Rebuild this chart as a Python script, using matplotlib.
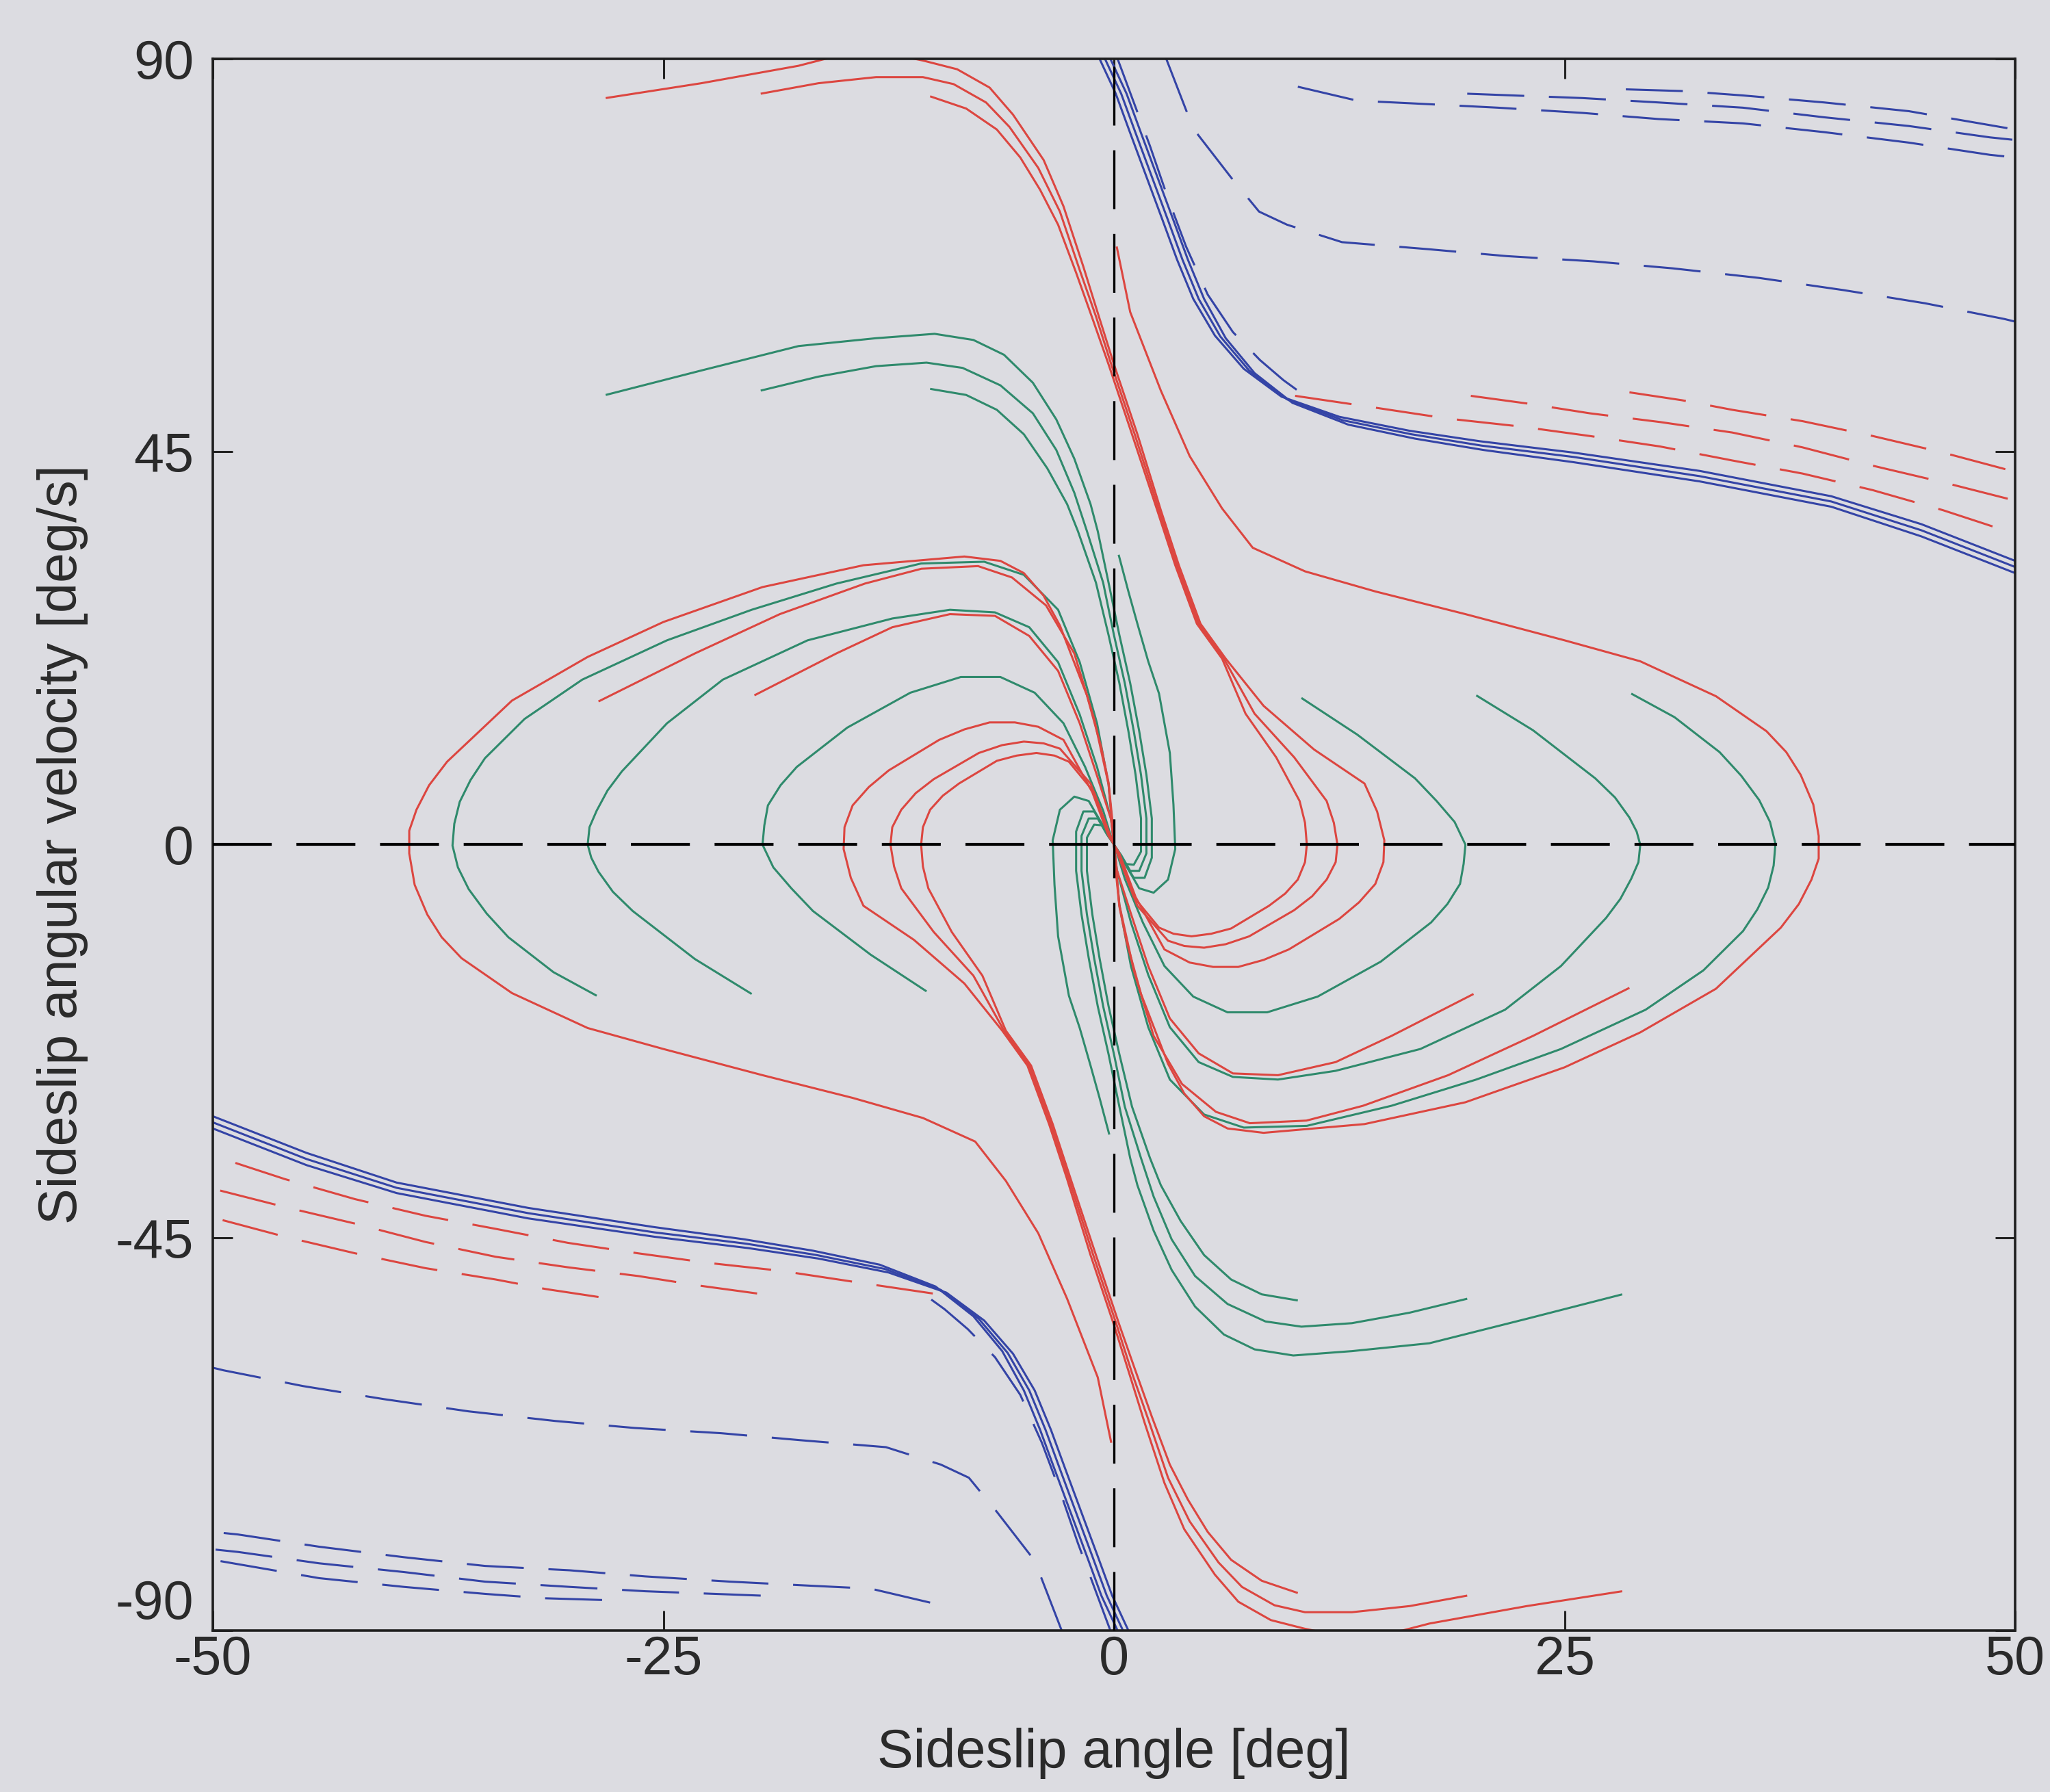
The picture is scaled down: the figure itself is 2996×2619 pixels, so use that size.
import matplotlib
matplotlib.use("Agg")
import matplotlib.pyplot as plt
import numpy as np

plt.rcParams['font.family'] = ['Liberation Sans', 'DejaVu Sans']
plt.rcParams['lines.scale_dashes'] = False

# ---------------- data (deg, deg/s) ----------------
# Every trajectory below is drawn together with its point-reflected twin
# (beta, r) -> (-beta, -r), as the phase portrait is symmetric about the origin.

# red solid: from top-left initial points, through the centre into small loops
rt1_x = [-28.2, -22.9, -17.5, -16.0, -13.0, -10.6, -8.7, -6.9, -5.6, -3.9, -2.8, -1.7, -0.9, 0.0, 1.3, 2.6, 3.6, 4.8, 6.2, 8.3, 11.1, 13.9, 14.6, 15.0, 14.95, 14.5, 13.6, 12.5, 9.7, 8.3, 6.9, 5.5, 4.2, 2.8, 1.2, 0.3, 0.0]
rt1_y = [85.5, 87.2, 89.2, 90.0, 90.8, 89.8, 88.8, 86.7, 83.6, 78.4, 73.1, 66.2, 60.9, 55.0, 47.0, 38.3, 32.0, 25.3, 21.3, 15.9, 10.9, 7.0, 3.8, 0.5, -2.0, -4.5, -6.6, -8.5, -12.0, -13.2, -14.0, -14.0, -13.5, -12.0, -6.0, -1.0, 0.0]
rt2_x = [-19.6, -16.4, -13.2, -10.6, -8.9, -7.1, -5.8, -4.2, -3.0, -1.9, -1.0, -0.15, 1.15, 2.5, 3.5, 4.7, 6.1, 7.8, 10.0, 11.8, 12.2, 12.4, 12.3, 11.8, 11.0, 10.0, 7.5, 6.2, 5.0, 3.9, 3.0, 1.3, 0.3, 0.0]
rt2_y = [86.0, 87.2, 87.9, 87.9, 87.1, 85.0, 82.2, 77.5, 72.5, 65.8, 60.5, 55.0, 47.0, 38.3, 32.0, 25.3, 21.3, 15.0, 10.0, 5.0, 2.5, 0.0, -2.0, -4.0, -5.9, -7.5, -10.5, -11.4, -11.8, -11.6, -11.0, -7.0, -1.5, 0.0]
rt3_x = [-10.2, -8.2, -6.5, -5.2, -4.1, -3.1, -2.1, -1.15, -0.3, 1.0, 2.4, 3.4, 4.6, 6.0, 7.3, 9.0, 10.3, 10.6, 10.7, 10.6, 10.2, 9.5, 8.6, 6.5, 5.4, 4.3, 3.3, 2.5, 1.1, 0.3, 0.0]
rt3_y = [85.7, 84.3, 81.9, 78.7, 75.0, 71.0, 65.5, 60.0, 55.0, 47.0, 38.3, 32.0, 25.3, 21.3, 15.0, 10.0, 5.0, 2.5, 0.0, -2.0, -4.0, -5.6, -7.0, -9.6, -10.2, -10.5, -10.2, -9.5, -6.0, -1.5, 0.0]
# red solid: large loop starting near the r axis
rbig_x = [0.15, 0.9, 2.6, 4.2, 6.0, 7.7, 10.6, 14.5, 19.5, 25.0, 29.2, 33.4, 36.2, 37.3, 38.1, 38.8, 39.1, 39.1, 38.7, 38.0, 37.0, 33.4, 29.2, 25.0, 19.5, 13.9, 8.3, 6.3, 5.0, 3.9, 3.0, 1.5, 0.7, 0.3, 0.1, 0.0]
rbig_y = [68.5, 61.0, 52.0, 44.5, 38.5, 34.0, 31.3, 29.0, 26.4, 23.4, 21.0, 17.0, 13.0, 10.6, 8.0, 4.6, 1.0, -1.6, -4.0, -6.8, -9.5, -16.5, -21.5, -25.5, -29.5, -32.0, -33.0, -32.5, -31.1, -28.5, -25.1, -17.1, -11.1, -7.1, -3.0, 0.0]
# red solid: short trajectories from mid-left initial points
rm1_x = [-28.6, -23.25, -18.54, -13.82, -10.68, -7.54, -5.66, -3.77, -2.2, -1.1, -0.3, 0.0]
rm1_y = [16.4, 21.9, 26.4, 29.9, 31.6, 31.9, 30.6, 27.4, 21.9, 14.4, 6.9, 0.0]
rm2_x = [-19.95, -15.4, -12.3, -9.1, -6.6, -4.7, -3.1, -1.9, -0.94, -0.16, 0.0]
rm2_y = [17.1, 21.9, 24.9, 26.4, 26.2, 23.9, 19.9, 13.9, 7.9, 2.9, 0.0]

# green solid: arcs crossing the beta axis on the left
gl1_x = [-28.7, -31.1, -33.6, -34.8, -35.8, -36.4, -36.7, -36.6, -36.3, -35.7, -34.9, -32.7, -29.5, -24.8, -20.1, -15.4, -10.7, -7.2, -5.0, -3.1, -1.9, -0.94, -0.3, 0.0]
gl1_y = [-17.3, -14.6, -10.6, -7.9, -5.1, -2.6, -0.1, 2.4, 4.9, 7.4, 9.9, 14.4, 18.9, 23.4, 26.9, 29.9, 32.2, 32.4, 30.9, 26.9, 20.9, 13.9, 6.9, 0.0]
gl2_x = [-20.1, -23.25, -26.7, -27.8, -28.6, -29.0, -29.2, -29.1, -28.7, -28.1, -27.3, -24.8, -21.7, -17.0, -12.3, -9.1, -6.6, -4.7, -3.1, -1.9, -0.94, -0.16, 0.0]
gl2_y = [-17.1, -13.1, -7.6, -5.4, -3.1, -1.5, 0.0, 2.0, 3.9, 6.2, 8.4, 13.9, 18.9, 23.4, 25.9, 26.9, 26.6, 24.9, 20.9, 14.9, 8.9, 2.9, 0.0]
gl3_x = [-10.4, -13.5, -16.7, -17.9, -18.9, -19.5, -19.4, -19.2, -18.5, -17.6, -14.8, -11.3, -8.5, -6.3, -4.4, -2.8, -1.6, -0.6, -0.16, 0.0]
gl3_y = [-16.8, -12.6, -7.6, -5.0, -2.6, 0.0, 2.2, 4.5, 6.8, 8.9, 13.4, 17.4, 19.2, 19.2, 17.4, 13.9, 8.9, 3.9, 0.9, 0.0]
# green solid: from upper-left initial points down through the centre
gt1_x = [-28.2, -22.9, -17.5, -13.2, -9.95, -7.8, -6.1, -4.5, -3.2, -2.2, -1.3, -0.9, -0.3, 0.3, 0.9, 1.4, 1.8, 2.1, 2.1, 1.7, 1.1, 0.5, 0.0]
gt1_y = [51.5, 54.3, 57.1, 58.0, 58.5, 57.8, 56.1, 52.9, 48.7, 44.2, 39.0, 35.9, 30.0, 24.0, 18.5, 13.0, 8.0, 3.0, -1.5, -3.8, -3.8, -1.8, 0.0]
gt2_x = [-19.6, -16.4, -13.2, -10.4, -8.4, -6.3, -4.5, -3.2, -2.2, -1.5, -0.6, 0.0, 0.6, 1.1, 1.5, 1.8, 1.8, 1.4, 0.9, 0.4, 0.0]
gt2_y = [52.0, 53.6, 54.8, 55.2, 54.6, 52.6, 49.4, 45.2, 40.3, 35.9, 30.0, 24.0, 18.5, 13.0, 8.0, 3.0, -1.0, -3.0, -3.0, -1.2, 0.0]
gt3_x = [-10.2, -8.2, -6.5, -5.0, -3.7, -2.6, -2.0, -1.0, -0.3, 0.3, 0.8, 1.2, 1.5, 1.5, 1.1, 0.6, 0.2, 0.0]
gt3_y = [52.2, 51.5, 49.8, 47.0, 43.1, 39.0, 35.9, 30.0, 24.0, 18.5, 13.0, 8.0, 3.0, -0.8, -2.3, -2.2, -0.8, 0.0]
g5_x = [0.26, 0.8, 1.3, 1.9, 2.5, 3.1, 3.3, 3.4, 3.0, 2.2, 1.4, 0.7, 0.0]
g5_y = [33.2, 29.0, 25.3, 21.0, 17.3, 10.5, 4.6, -0.5, -4.0, -5.5, -5.0, -2.5, 0.0]

# blue solid: three diverging trajectories (upper right)
bs1_x = [-0.8, 0.1, 0.9, 1.8, 2.7, 3.5, 4.4, 5.6, 7.2, 9.3, 12.5, 16.4, 20.3, 25.5, 32.5, 39.8, 44.8, 50.0]
bs1_y = [90.0, 86.0, 81.5, 76.5, 71.5, 67.0, 62.5, 58.3, 54.5, 51.3, 49.0, 47.4, 46.2, 44.9, 42.8, 39.9, 36.7, 32.5]
bs2_x = [-0.5, 0.4, 1.2, 2.1, 3.0, 3.8, 4.7, 5.9, 7.5, 9.6, 12.7, 16.5, 20.4, 25.5, 32.5, 39.8, 44.8, 50.0]
bs2_y = [90.0, 86.0, 81.5, 76.5, 71.5, 67.0, 62.5, 58.2, 54.3, 51.0, 48.6, 47.0, 45.7, 44.4, 42.2, 39.3, 36.0, 31.8]
bs3_x = [-0.2, 0.7, 1.5, 2.4, 3.3, 4.1, 5.0, 6.2, 7.8, 9.9, 13.0, 16.7, 20.5, 25.5, 32.5, 39.8, 44.8, 50.0]
bs3_y = [90.0, 86.0, 81.5, 76.5, 71.5, 67.0, 62.5, 58.0, 54.0, 50.6, 48.1, 46.5, 45.2, 43.8, 41.6, 38.7, 35.3, 31.1]

# blue dashed
bdh_x = [0.2, 1.1, 2.0, 3.0, 4.0, 5.2, 6.6, 8.1, 9.4, 10.2]
bdh_y = [90.0, 85.0, 80.0, 74.0, 68.5, 63.0, 58.7, 55.5, 53.2, 52.0]
bds_x = [2.9, 4.4, 6.5, 8.05, 9.6, 12.65, 17.4, 21.8, 26.6, 31.0, 35.8, 40.5, 45.0, 49.4, 50.0]
bds_y = [90.0, 82.0, 76.4, 72.5, 71.0, 69.0, 68.2, 67.4, 66.8, 66.0, 64.9, 63.5, 62.0, 60.2, 59.9]
bd1_x = [10.2, 13.5, 16.5, 21.3, 26.0, 30.2, 34.9, 39.4, 44.1, 48.6, 50.0]
bd1_y = [86.8, 85.2, 84.9, 84.4, 83.8, 83.1, 82.6, 81.6, 80.4, 79.0, 78.7]
bd2_x = [19.6, 26.0, 30.2, 34.9, 39.4, 44.1, 48.6, 50.0]
bd2_y = [86.0, 85.5, 85.0, 84.4, 83.3, 82.3, 81.0, 80.7]
bd3_x = [28.4, 31.6, 34.9, 39.4, 44.1, 48.6, 50.0]
bd3_y = [86.5, 86.3, 85.8, 85.0, 84.0, 82.4, 81.9]

# red dashed (upper right)
rda_x = [10.05, 14.0, 18.5, 22.5, 26.4, 30.3, 34.3, 38.2, 42.1, 46.0, 50.0]
rda_y = [51.4, 50.2, 48.8, 47.9, 46.8, 45.6, 44.0, 42.5, 40.6, 38.3, 35.6]
rdb_x = [19.8, 23.0, 26.4, 30.3, 34.3, 38.2, 42.1, 46.0, 50.0]
rdb_y = [51.4, 50.5, 49.4, 48.4, 47.2, 45.5, 43.4, 41.5, 39.4]
rdc_x = [28.6, 31.5, 34.3, 38.2, 42.1, 46.0, 50.0]
rdc_y = [51.8, 50.9, 49.8, 48.5, 46.8, 44.9, 42.7]

x_ticks = [-50, -25, 0, 25, 50]
y_ticks = [-90, -45, 0, 45, 90]
x_label = "Sideslip angle [deg]"
y_label = "Sideslip angular velocity [deg/s]"

# ---------------- styling ----------------
RED = '#dc4640'
GREEN = '#2f8a6c'
BLUE = '#3444a6'
BG = '#dcdce1'
TXT = '#2a2a2a'
LW = 2.2
DASH = (0, (60, 26))

fig = plt.figure(figsize=(29.96, 26.19), dpi=100, facecolor=BG)
ax = fig.add_axes([0.1038, 0.0901, 0.8792, 0.8771])
ax.set_facecolor(BG)

def draw(xs, ys, color, ls='-'):
    x = np.asarray(xs, dtype=float)
    y = np.asarray(ys, dtype=float)
    for sx, sy in ((x, y), (-x, -y)):
        ax.plot(sx, sy, color=color, lw=LW, ls=ls, solid_joinstyle='round',
                solid_capstyle='butt', dash_capstyle='butt', zorder=2)

for xs, ys in [(bs1_x, bs1_y), (bs2_x, bs2_y), (bs3_x, bs3_y)]:
    draw(xs, ys, BLUE)
for xs, ys in [(bdh_x, bdh_y), (bds_x, bds_y), (bd1_x, bd1_y), (bd2_x, bd2_y), (bd3_x, bd3_y)]:
    draw(xs, ys, BLUE, DASH)
for xs, ys in [(rda_x, rda_y), (rdb_x, rdb_y), (rdc_x, rdc_y)]:
    draw(xs, ys, RED, DASH)
for xs, ys in [(gl1_x, gl1_y), (gl2_x, gl2_y), (gl3_x, gl3_y),
               (gt1_x, gt1_y), (gt2_x, gt2_y), (gt3_x, gt3_y), (g5_x, g5_y)]:
    draw(xs, ys, GREEN)
for xs, ys in [(rt1_x, rt1_y), (rt2_x, rt2_y), (rt3_x, rt3_y),
               (rbig_x, rbig_y), (rm1_x, rm1_y), (rm2_x, rm2_y)]:
    draw(xs, ys, RED)

# dashed coordinate axes
ax.axhline(0, color='black', lw=3.0, ls=(0, (62, 26)), zorder=4)
ax.axvline(0, color='black', lw=2.4, ls=(0, (62, 26)), zorder=4)

ax.set_xlim(-50, 50)
ax.set_ylim(-90, 90)
ax.set_xticks(x_ticks)
ax.set_yticks(y_ticks)
ax.set_xticklabels([str(v) for v in x_ticks])
ylabels = ax.set_yticklabels([str(v) for v in y_ticks])
ylabels[0].set_verticalalignment('bottom')
ax.tick_params(direction='in', top=True, right=True, length=21, width=2.2,
               labelsize=57, labelcolor=TXT, color='#222222')
ax.tick_params(axis='x', pad=4)
ax.tick_params(axis='y', pad=20)
for s in ax.spines.values():
    s.set_linewidth(2.6)
    s.set_color('#1e1e1e')

ax.set_xlabel(x_label, fontsize=57, color=TXT)
ax.set_ylabel(y_label, fontsize=57, color=TXT)
ax.xaxis.set_label_coords(0.5, -0.062)
ax.yaxis.set_label_coords(-0.069, 0.5)

fig.savefig('out.png', dpi=100, facecolor=BG)
